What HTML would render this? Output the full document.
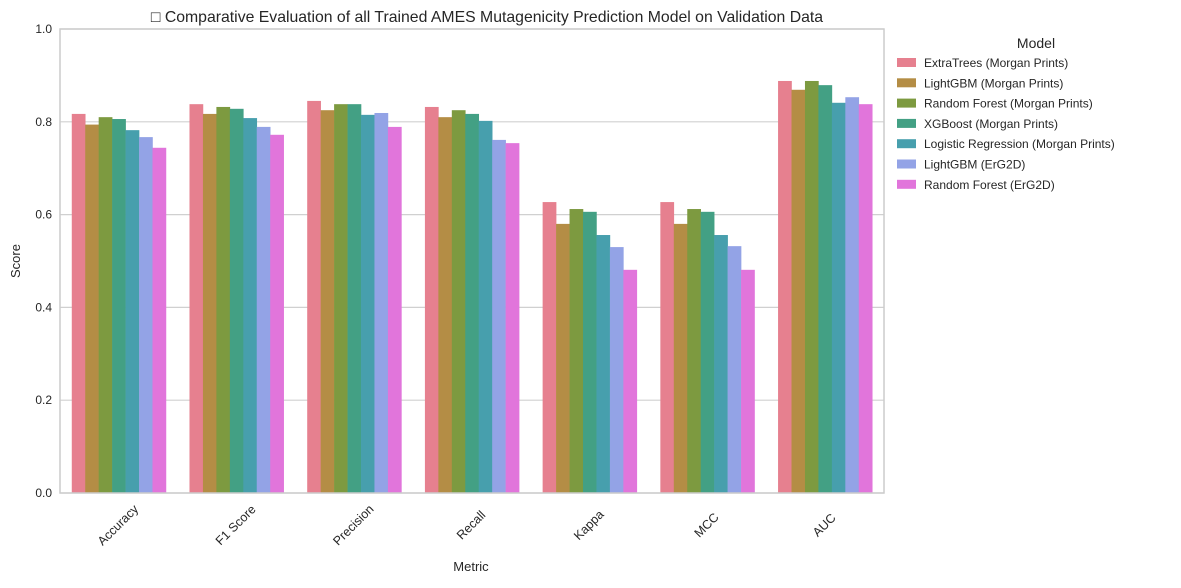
<!DOCTYPE html>
<html><head><meta charset="utf-8"><style>
body{margin:0;background:#fff;font-family:"Liberation Sans","DejaVu Sans",sans-serif;}
svg text{font-family:"Liberation Sans","DejaVu Sans",sans-serif;fill:#262626;}
</style></head><body>
<svg id="chart" width="1181" height="583">
<text x="487" y="22" text-anchor="middle" font-size="15.8">□ Comparative Evaluation of all Trained AMES Mutagenicity Prediction Model on Validation Data</text>
<g id="grid"></g><g id="bars"></g><g id="axes"></g><g id="legend"></g>
<text x="471" y="571" text-anchor="middle" font-size="13">Metric</text>
<text transform="translate(20,261) rotate(-90)" text-anchor="middle" font-size="13">Score</text>
</svg>
<script>
const categories=["Accuracy","F1 Score","Precision","Recall","Kappa","MCC","AUC"];
const models=["ExtraTrees (Morgan Prints)","LightGBM (Morgan Prints)","Random Forest (Morgan Prints)","XGBoost (Morgan Prints)","Logistic Regression (Morgan Prints)","LightGBM (ErG2D)","Random Forest (ErG2D)"];
const extraTrees=[0.817,0.838,0.845,0.832,0.627,0.627,0.888];
const lgbmMorgan=[0.794,0.817,0.825,0.810,0.580,0.580,0.869];
const rfMorgan=[0.810,0.832,0.838,0.825,0.612,0.612,0.888];
const xgbMorgan=[0.806,0.828,0.838,0.817,0.606,0.606,0.879];
const lrMorgan=[0.782,0.808,0.815,0.802,0.556,0.556,0.841];
const lgbmErg=[0.767,0.789,0.819,0.761,0.530,0.532,0.853];
const rfErg=[0.744,0.772,0.789,0.754,0.481,0.481,0.838];
const yTicks=["0.0","0.2","0.4","0.6","0.8","1.0"];
const series=[extraTrees,lgbmMorgan,rfMorgan,xgbMorgan,lrMorgan,lgbmErg,rfErg];
const colors=["#e6808f","#b48d45","#7d9a40","#43a084","#479fad","#93a3e6","#e175db"];
const NS="http://www.w3.org/2000/svg";
const X0=60,X1=884,Y0=493,Y1=29;
const y=v=>Y0-(Y0-Y1)*v;
const gw=(X1-X0)/categories.length, bw=gw*0.8/series.length;
function mk(t,a,p){const e=document.createElementNS(NS,t);for(const k in a)e.setAttribute(k,a[k]);p.appendChild(e);return e;}
const grid=document.getElementById('grid'),bars=document.getElementById('bars'),axes=document.getElementById('axes'),leg=document.getElementById('legend');
yTicks.forEach(t=>{const v=parseFloat(t);
 const l=mk('line',{x1:X0,x2:X1,y1:y(v),y2:y(v),stroke:'#d0d0d0','stroke-width':1.2},grid);
 
 
 const tx=mk('text',{x:X0-8,y:y(v)+4,'text-anchor':'end','font-size':12},axes);tx.textContent=t;
 
 
});
series.forEach((s,si)=>s.forEach((v,ci)=>{
 const r=mk('rect',{x:X0+ci*gw+gw*0.1+si*bw,y:y(v),width:bw+0.3,height:Y0-y(v),fill:colors[si]},bars);
 
 
}));
categories.forEach((c,ci)=>{const cx=X0+ci*gw+gw/2;
 const t=mk('text',{transform:`translate(${cx+2},${528}) rotate(-45)`,'text-anchor':'middle','font-size':12.5},axes);t.textContent=c;
 
 
});
const fr=mk('rect',{x:X0,y:Y1,width:X1-X0,height:Y0-Y1,fill:'none',stroke:'#cccccc','stroke-width':1.5},axes);


const lt=mk('text',{x:1036,y:48,'text-anchor':'middle','font-size':14},leg);lt.textContent='Model';


models.forEach((m,i)=>{const yy=63+i*20.3;
 const g=mk('g',{},leg);
 
 
 mk('rect',{x:897,y:yy-5,width:19,height:9,fill:colors[i]},g);
 const t=mk('text',{x:924,y:yy+4,'font-size':12},g);t.textContent=m;
});
</script>
</body></html>
